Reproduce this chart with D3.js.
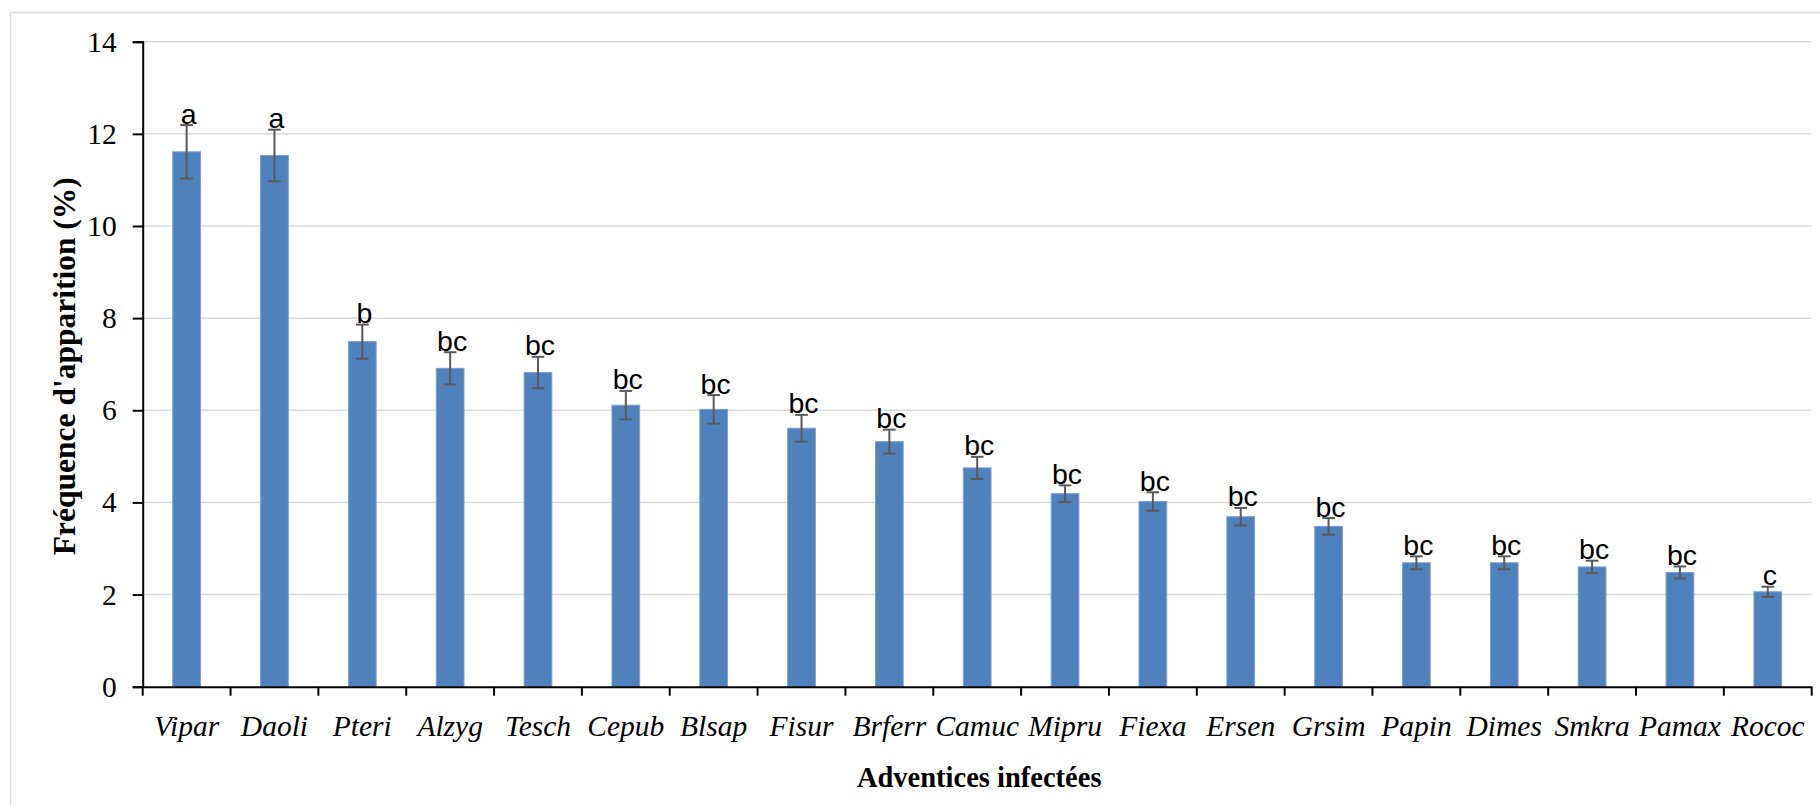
<!DOCTYPE html>
<html>
<head>
<meta charset="utf-8">
<script src="https://cdn.jsdelivr.net/npm/d3@7"></script>
<style>
  html, body { margin: 0; padding: 0; background: #fff; overflow: hidden; }
  svg { display: block; }
</style>
</head>
<body>
<svg id="chart" width="1820" height="805"></svg>
<script>
// Weed species codes (x categories)
const categories = ["Vipar", "Daoli", "Pteri", "Alzyg", "Tesch", "Cepub", "Blsap", "Fisur", "Brferr",
  "Camuc", "Mipru", "Fiexa", "Ersen", "Grsim", "Papin", "Dimes", "Smkra", "Pamax", "Rococ"];
// Mean frequency of occurrence (%)
const values = [11.61, 11.53, 7.49, 6.91, 6.82, 6.11, 6.02, 5.61, 5.32,
  4.75, 4.19, 4.02, 3.69, 3.48, 2.69, 2.69, 2.60, 2.48, 2.06];
// Standard errors
const errors = [0.58, 0.56, 0.37, 0.35, 0.34, 0.31, 0.31, 0.29, 0.26,
  0.24, 0.18, 0.20, 0.19, 0.18, 0.14, 0.14, 0.135, 0.13, 0.11];
// Significance groups
const groups = ["a", "a", "b", "bc", "bc", "bc", "bc", "bc", "bc",
  "bc", "bc", "bc", "bc", "bc", "bc", "bc", "bc", "bc", "c"];
const yTicks = [0, 2, 4, 6, 8, 10, 12, 14];

const rows = categories.map((c, i) => ({ cat: c, v: values[i], e: errors[i], g: groups[i] }));

const svg = d3.select("#chart");
const W = 1820, H = 805;
const plotL = 142.7, plotR = 1811.7, plotT = 41.7, plotB = 686.7;

// outer chart border
svg.append("rect")
  .attr("x", 10.5).attr("y", 12.5)
  .attr("width", W).attr("height", H)
  .attr("fill", "none").attr("stroke", "#d9d9d9").attr("stroke-width", 1.5);

const x = d3.scaleBand().domain(categories).range([plotL, plotR]).paddingInner(0).paddingOuter(0);
const y = d3.scaleLinear().domain([0, 14]).range([plotB, plotT]);
const barW = 27.7;

// horizontal gridlines
svg.append("g")
  .selectAll("line")
  .data(yTicks.filter(t => t > 0))
  .join("line")
  .attr("x1", plotL).attr("x2", plotR)
  .attr("y1", d => y(d)).attr("y2", d => y(d))
  .attr("stroke", "#d9d9d9").attr("stroke-width", 1.5);

// bars
svg.append("g")
  .selectAll("rect")
  .data(rows)
  .join("rect")
  .attr("x", d => x(d.cat) + x.bandwidth() / 2 - barW / 2)
  .attr("width", barW)
  .attr("y", d => y(d.v))
  .attr("height", d => y(0) - y(d.v))
  .attr("fill", "#4f81bd")
  .attr("stroke", "#7aa0d0")
  .attr("stroke-width", 1);

// error bars
const eb = svg.append("g").attr("stroke", "#595959").attr("stroke-width", 2).attr("fill", "none");
rows.forEach(d => {
  const cx = x(d.cat) + x.bandwidth() / 2;
  const y1 = y(d.v + d.e), y2 = y(d.v - d.e);
  eb.append("line").attr("x1", cx).attr("x2", cx).attr("y1", y1).attr("y2", y2);
  eb.append("line").attr("x1", cx - 6.3).attr("x2", cx + 6.3).attr("y1", y1).attr("y2", y1);
  eb.append("line").attr("x1", cx - 6.3).attr("x2", cx + 6.3).attr("y1", y2).attr("y2", y2);
});

// group letters
svg.append("g")
  .selectAll("text")
  .data(rows)
  .join("text")
  .attr("x", d => x(d.cat) + x.bandwidth() / 2 + 2)
  .attr("y", d => y(d.v + d.e) - 1.5)
  .attr("text-anchor", "middle")
  .attr("font-family", "'Liberation Sans', Arial, sans-serif")
  .attr("font-size", 28.5)
  .attr("fill", "#000")
  .text(d => d.g);

// y axis
const yAxis = svg.append("g")
  .attr("transform", `translate(${plotL},0)`)
  .call(d3.axisLeft(y).tickValues(yTicks).tickSize(10).tickPadding(16).tickFormat(d3.format("d")));
yAxis.select(".domain").attr("stroke", "#000").attr("stroke-width", 2);
yAxis.selectAll(".tick line").attr("stroke", "#000").attr("stroke-width", 2);
yAxis.selectAll(".tick text")
  .attr("font-family", "'Liberation Serif', 'Times New Roman', serif")
  .attr("font-size", 29.5).attr("fill", "#000");

// x axis with ticks at category boundaries
const xAxis = svg.append("g")
  .attr("transform", `translate(0,${plotB})`)
  .call(d3.axisBottom(x).tickSize(0).tickPadding(28));
xAxis.select(".domain").attr("stroke", "#000").attr("stroke-width", 2);
xAxis.selectAll(".tick text")
  .attr("font-family", "'Liberation Serif', 'Times New Roman', serif")
  .attr("font-style", "italic")
  .attr("font-size", 29.5).attr("fill", "#000")
  .attr("dy", "0.71em");
const bounds = categories.map(c => x(c)).concat([plotR]);
xAxis.append("g")
  .selectAll("line")
  .data(bounds)
  .join("line")
  .attr("x1", d => d).attr("x2", d => d)
  .attr("y1", 0).attr("y2", 9)
  .attr("stroke", "#000").attr("stroke-width", 2);

// axis titles
svg.append("text")
  .attr("x", (plotL + plotR) / 2 + 2)
  .attr("y", 787)
  .attr("text-anchor", "middle")
  .attr("font-family", "'Liberation Serif', 'Times New Roman', serif")
  .attr("font-weight", "bold")
  .attr("font-size", 28.5)
  .text("Adventices infectées");

svg.append("text")
  .attr("transform", `translate(75,${(plotT + plotB) / 2 + 2}) rotate(-90)`)
  .attr("text-anchor", "middle")
  .attr("font-family", "'Liberation Serif', 'Times New Roman', serif")
  .attr("font-weight", "bold")
  .attr("font-size", 31.5)
  .text("Fréquence d'apparition (%)");
</script>
</body>
</html>
